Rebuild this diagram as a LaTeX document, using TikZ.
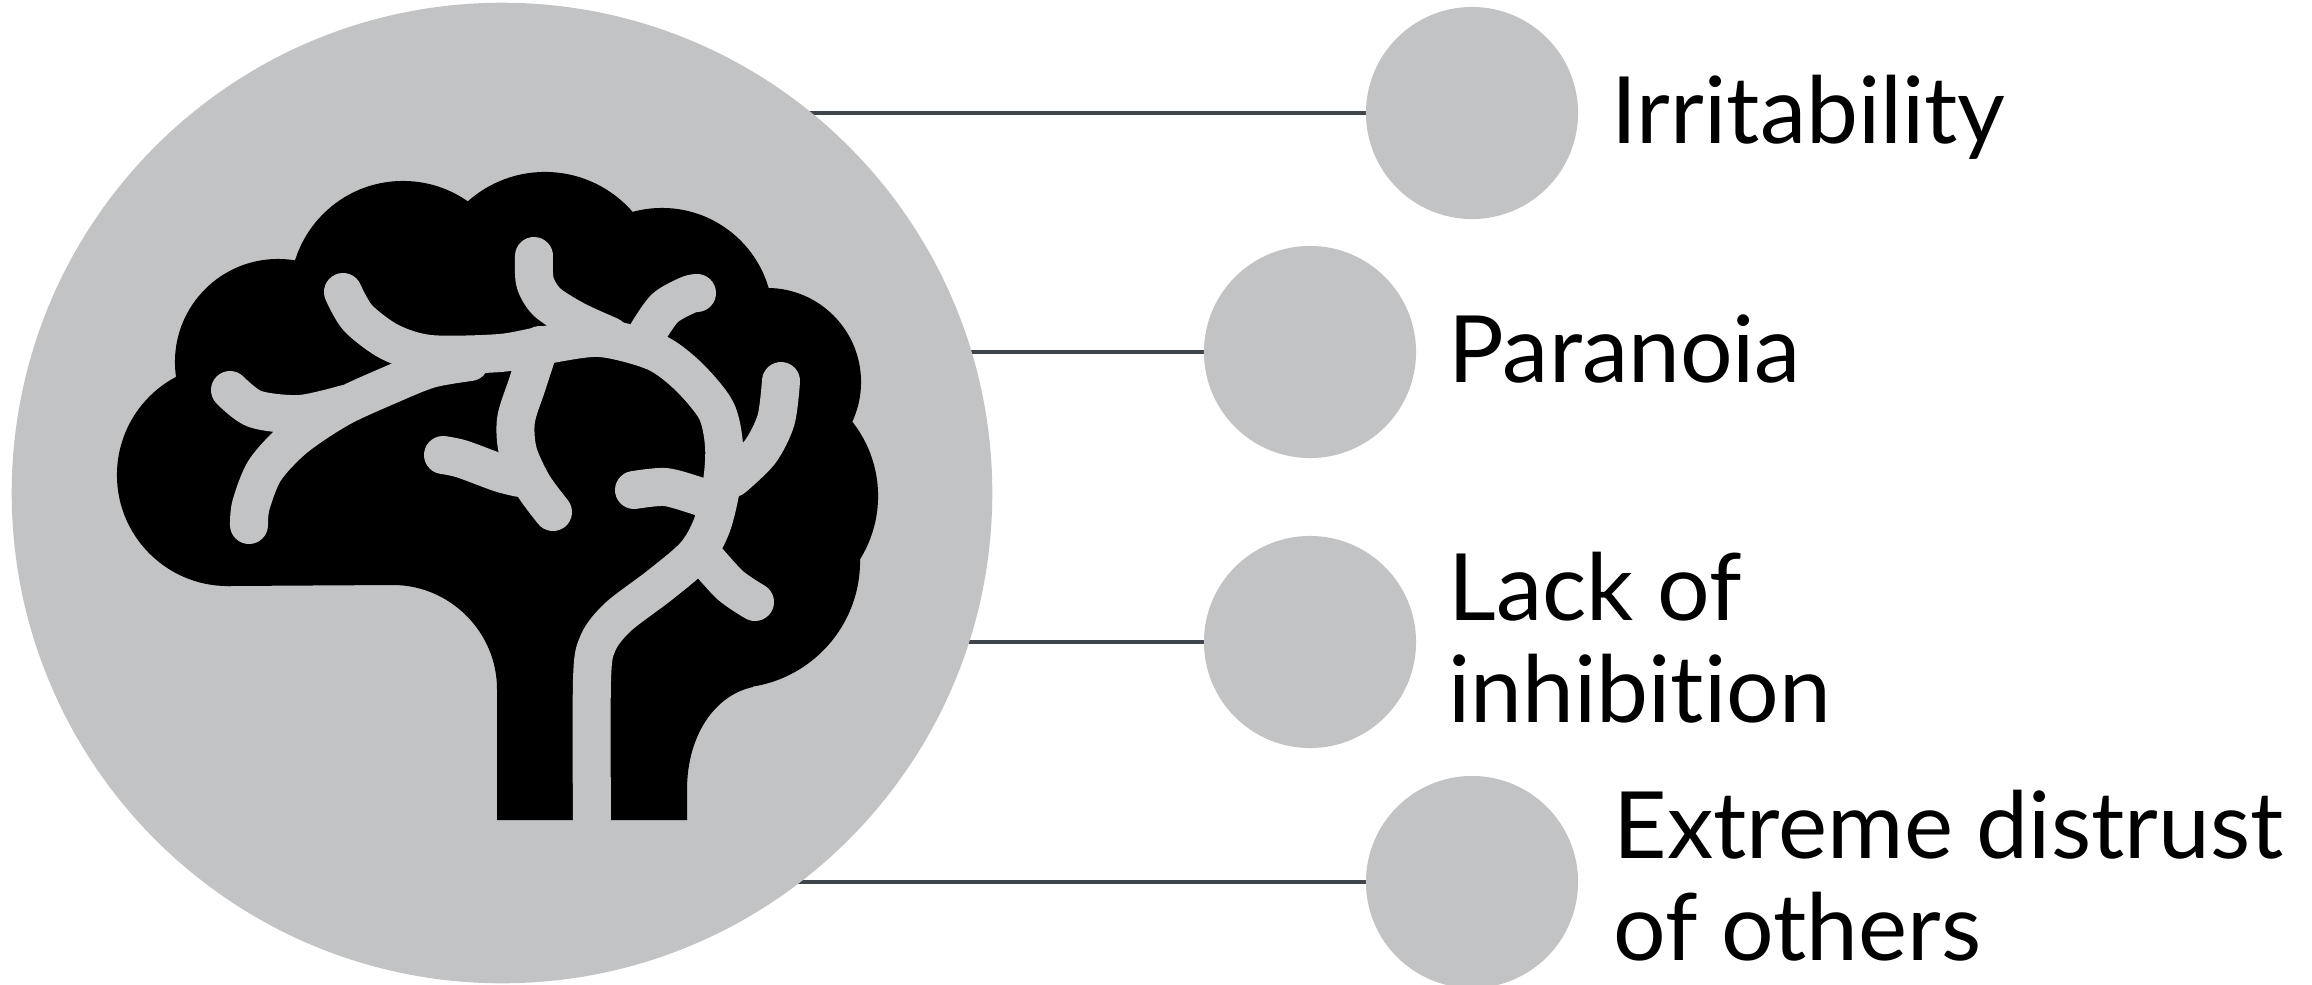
\documentclass[tikz,border=0pt]{standalone}
\usepackage{fontspec}
\setmainfont{Lato}[Ligatures=NoCommon]
\usetikzlibrary{calc,positioning,backgrounds}

\definecolor{discgray}{RGB}{194,195,197}
\definecolor{linkgray}{RGB}{61,68,74}

\begin{document}
\begin{tikzpicture}[x=0.01cm,y=-0.01cm,
  disc/.style={circle,fill=discgray,inner sep=0pt,minimum size=#1},
  disc/.default=2.12cm,
  link/.style={draw=linkgray,line width=0.045cm},
  vein/.style={draw=discgray,line width=0.38cm,line cap=round,line join=round},
  item/.style={anchor=base west,inner sep=0pt,align=left,
    font=\fontsize{26.4pt}{29pt}\selectfont}]

  \useasboundingbox (0,0) rectangle (2312,984);

  \node[disc=9.8cm] (head) at (502,493) {};
  \node[disc] (d1) at (1472,113) {};
  \node[disc] (d2) at (1310,352) {};
  \node[disc] (d3) at (1310,642) {};
  \node[disc] (d4) at (1472,882) {};

  % two-line labels sit on their last baseline
  \node[item] (irr) at ($(d1.east)+(32,30)$) {Irritability};
  \node[item] (par) at ($(d2.east)+(31,30)$) {Paranoia};
  \node[item] (inh) at ($(d3.east)+(31,80)$) {Lack of\\inhibition};
  \node[item] (dis) at ($(d4.east)+(34,78)$) {Extreme distrust\\of others};

  \begin{scope}[on background layer]
    \foreach \d in {d1,d2,d3,d4}
      \draw[link] (\d.center) -- (head.center |- \d.center);
  \end{scope}

  % brain: lobes as discs over a core with the stem
  \foreach \cx/\cy/\r in {228/475/1.11, 278/362/1.03, 403/294/1.13, 545/288/1.16,
      662/319/1.11, 767/382/0.94, 758/496/1.20, 733/561/1.27}
    \fill[black] (\cx,\cy) circle[radius=\r cm];
  \fill[black] (497,820) -- (497,689) .. controls (497,632) and (450,585) .. (393,585)
    -- (228,586) -- (228,475) -- (278,362) -- (403,294) -- (545,288) -- (662,319)
    -- (767,382) -- (758,496) -- (733,561) -- (753,687)
    .. controls (715,695) and (687,735) .. (687,790) -- (687,820) -- cycle;

  % veins
  \draw[vein] plot[smooth] coordinates {(343,292) (358,318) (390,342) (430,354) (500,353)
    (545,345) (600,338) (655,352) (688,376) (716,410) (724,445) (722,482) (712,525)
    (695,555) (660,585) (618,617) (598,643) (592,680) (592,830)};
  \draw[vein] plot[smooth] coordinates {(470,362) (430,369) (390,385) (340,408) (295,438)
    (265,470) (251,505) (249,525)};
  \draw[vein] plot[smooth] coordinates {(230,390) (255,409) (300,414) (345,404)};
  \draw[vein] plot[smooth] coordinates {(534,256) (535,282) (547,302) (575,320) (610,336)};
  \draw[vein] plot[smooth] coordinates {(648,332) (665,308) (688,295) (697,293)};
  \draw[vein] plot[smooth] coordinates {(540,345) (527,385) (516,420) (518,452) (533,485) (553,512)};
  \draw[vein] plot[smooth] coordinates {(443,455) (462,459) (500,473) (520,478)};
  \draw[vein] plot[smooth] coordinates {(634,490) (665,487) (695,495) (712,501)};
  \draw[vein] plot[smooth] coordinates {(733,478) (760,452) (776,420) (781,381)};
  \draw[vein] plot[smooth] coordinates {(703,555) (730,585) (755,602)};

\end{tikzpicture}
\end{document}
